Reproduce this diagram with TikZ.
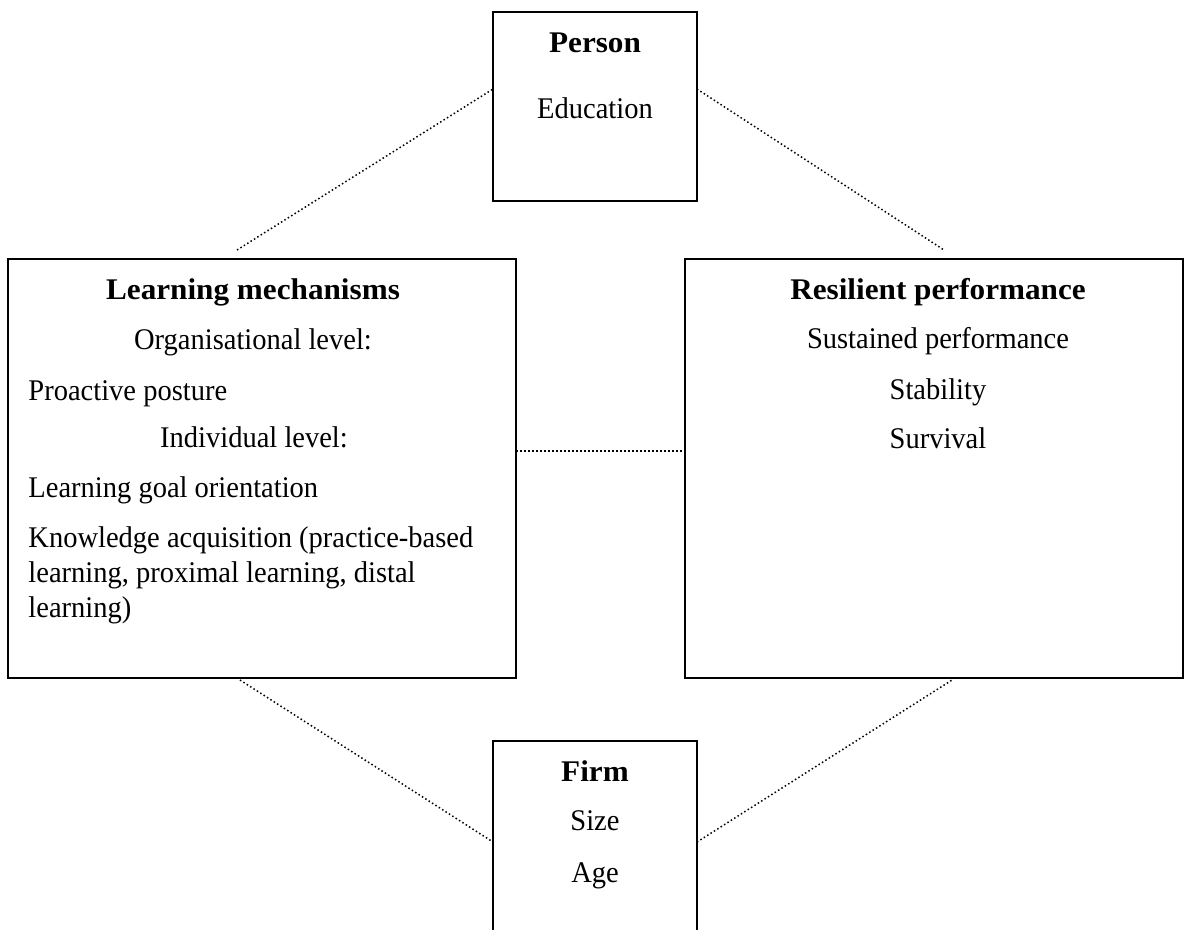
\documentclass[tikz,border=0pt]{standalone}
\usepackage{fontspec}
\setmainfont{Liberation Serif}[FakeStretch=0.95, BoldFeatures={FakeStretch=1.04}]
\usetikzlibrary{positioning}

\begin{document}
\begin{tikzpicture}[
    x=0.4pt, y=-0.4pt,
    font=\fontsize{12}{14}\selectfont,
    box/.style={draw, line width=0.6pt, inner sep=0pt, outer sep=0pt, anchor=north west},
    title/.style={font=\fontsize{12}{14}\selectfont\bfseries, anchor=base, inner sep=0pt},
    item/.style={anchor=base, inner sep=0pt},
    lefttext/.style={anchor=base west, inner sep=0pt, align=left},
    link/.style={densely dotted, line width=0.6pt}
]
   \path[use as bounding box, clip] (0,0) rectangle (1184,929);

   % Boxes
   \node[box, minimum width=81.6pt, minimum height=75.6pt] (person) at (493,12) {};
   \node[box, minimum width=203.2pt, minimum height=167.6pt] (learn) at (8,259) {};
   \node[box, minimum width=199.2pt, minimum height=167.6pt] (resil) at (685,259) {};
   \node[box, minimum width=81.6pt, minimum height=90pt] (firm) at (493,741) {};

   % Person
   \node[title] (person-t) at (595,52) {Person};
   \node[item] (educ) at (595,118) {Education};

   % Learning mechanisms
   \node[title] (learn-t) at (253,299) {Learning mechanisms};
   \node[item] (orglev) at (253,349) {Organisational level:};
   \node[lefttext] (proact) at (28,400) {Proactive posture};
   \node[item] (indlev) at (254,447) {Individual level:};
   \node[lefttext] (goal) at (28,497) {Learning goal orientation};
   % base anchor sits on the last line
   \node[lefttext] (knowl) at (28,617) {Knowledge acquisition (practice-based\\learning, proximal learning, distal\\learning)};

   % Resilient performance
   \node[title] (resil-t) at (938,299) {Resilient performance};
   \node[item] (sust) at (938,348) {Sustained performance};
   \node[item] (stab) at (938,399) {Stability};
   \node[item] (surv) at (938,448) {Survival};

   % Firm
   \node[title] (firm-t) at (595,781) {Firm};
   \node[item] (size) at (595,830) {Size};
   \node[item] (age) at (595,882) {Age};

   % Connector ends
   \coordinate (p-w) at (493,89);
   \coordinate (p-e) at (697,89);
   \coordinate (l-n) at (237,250);
   \coordinate (r-n) at (944,250);
   \coordinate (l-s) at (240,680);
   \coordinate (r-s) at (952,680);
   \coordinate (f-w) at (493,842);
   \coordinate (f-e) at (697,842);
   \coordinate (l-e) at (516,451);
   \coordinate (r-w) at (685,451);

   % Dotted links
   \draw[link] (l-n) -- (p-w);
   \draw[link] (p-e) -- (r-n);
   \draw[link] (l-e) -- (r-w);
   \draw[link] (l-s) -- (f-w);
   \draw[link] (f-e) -- (r-s);
\end{tikzpicture}
\end{document}
